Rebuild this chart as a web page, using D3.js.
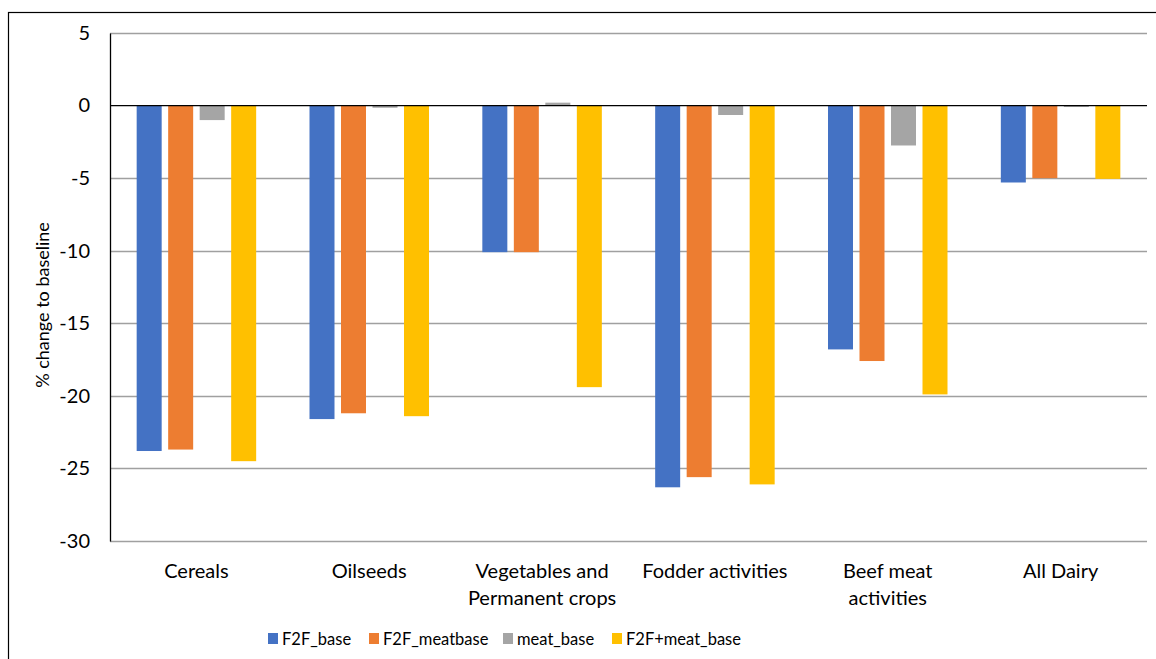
<!DOCTYPE html>
<html>
<head>
<meta charset="utf-8">
<script src="https://cdn.jsdelivr.net/npm/d3@7"></script>
<style>
  body { margin: 0; background: #fff; }
  svg { display: block; font-family: Lato, "Open Sans", sans-serif; }
</style>
</head>
<body>
<div id="chart"></div>
<script>
// categories and series
const categories = [
  ["Cereals"],
  ["Oilseeds"],
  ["Vegetables and", "Permanent crops"],
  ["Fodder activities"],
  ["Beef meat", "activities"],
  ["All Dairy"]
];
const series = ["F2F_base", "F2F_meatbase", "meat_base", "F2F+meat_base"];
const f2f_base = [-23.8, -21.6, -10.1, -26.3, -16.8, -5.3];
const f2f_meatbase = [-23.7, -21.2, -10.1, -25.6, -17.6, -5.0];
const meat_base = [-1.0, -0.15, 0.2, -0.65, -2.75, -0.1];
const f2f_meat_base = [-24.5, -21.4, -19.4, -26.1, -19.9, -5.05];
const yTicks = [5, 0, -5, -10, -15, -20, -25, -30];

const values = [f2f_base, f2f_meatbase, meat_base, f2f_meat_base];
const colors = ["#4472c4", "#ed7d31", "#a5a5a5", "#ffc000"];

const width = 1156, height = 659;
const margin = { top: 33, right: 9, bottom: 118, left: 110 };
const plotW = width - margin.left - margin.right;
const plotH = height - margin.top - margin.bottom;

const svg = d3.select("#chart").append("svg")
  .attr("width", width)
  .attr("height", height);

// outer border
svg.append("rect")
  .attr("x", 8.5).attr("y", 12.5)
  .attr("width", width).attr("height", height)
  .attr("fill", "none").attr("stroke", "#000").attr("stroke-width", 1.2);

const g = svg.append("g")
  .attr("transform", "translate(" + margin.left + "," + margin.top + ")");

const x0 = d3.scaleBand()
  .domain(d3.range(categories.length))
  .range([0, plotW])
  .paddingInner(0)
  .paddingOuter(0);

const y = d3.scaleLinear().domain([-30, 5]).range([plotH, 0]);

// bar layout inside each category band
const barW = 25, barGap = 6.5;
const groupW = series.length * barW + (series.length - 1) * barGap;

// gridlines
g.selectAll(".grid")
  .data(yTicks.filter(t => t !== 0))
  .enter().append("line")
  .attr("x1", 0).attr("x2", plotW)
  .attr("y1", d => Math.round(y(d)) + 0.5)
  .attr("y2", d => Math.round(y(d)) + 0.5)
  .attr("stroke", "#a0a0a0")
  .attr("stroke-width", 1.5);

// bars
series.forEach((s, i) => {
  g.selectAll(".bar-" + i)
    .data(values[i])
    .enter().append("rect")
    .attr("x", (d, j) => x0(j) + (x0.bandwidth() - groupW) / 2 + i * (barW + barGap))
    .attr("width", barW)
    .attr("y", d => y(Math.max(0, d)))
    .attr("height", d => Math.abs(y(d) - y(0)))
    .attr("fill", colors[i]);
});

// zero line
g.append("line")
  .attr("x1", 0).attr("x2", plotW)
  .attr("y1", y(0)).attr("y2", y(0))
  .attr("stroke", "#000").attr("stroke-width", 1.3);

// y axis
const yAxis = g.append("g")
  .call(d3.axisLeft(y).tickValues(yTicks).tickSize(0).tickPadding(20).tickFormat(d => d));
yAxis.select(".domain").attr("stroke", "#000").attr("stroke-width", 1.3);
yAxis.selectAll("text")
  .attr("font-size", 20)
  .attr("font-family", "Lato, 'Open Sans', sans-serif")
  .attr("fill", "#000");

// y axis title
svg.append("text")
  .attr("transform", "translate(49,305) rotate(-90)")
  .attr("text-anchor", "middle")
  .attr("font-size", 18)
  .attr("fill", "#000")
  .text("% change to baseline");

// category labels
categories.forEach((lines, j) => {
  const t = g.append("text")
    .attr("text-anchor", "middle")
    .attr("font-size", 20)
    .attr("fill", "#000");
  lines.forEach((ln, k) => {
    t.append("tspan")
      .attr("x", x0(j) + x0.bandwidth() / 2)
      .attr("y", plotH + 37 + k * 27)
      .text(ln);
  });
});

// legend
const legendX = [268, 369, 503, 612];
const legend = svg.append("g");
series.forEach((s, i) => {
  legend.append("rect")
    .attr("x", legendX[i]).attr("y", 633)
    .attr("width", 10).attr("height", 11)
    .attr("fill", colors[i]);
  legend.append("text")
    .attr("x", legendX[i] + 14).attr("y", 645)
    .attr("font-size", 16.5)
    .attr("fill", "#000")
    .text(s);
});
</script>
</body>
</html>
